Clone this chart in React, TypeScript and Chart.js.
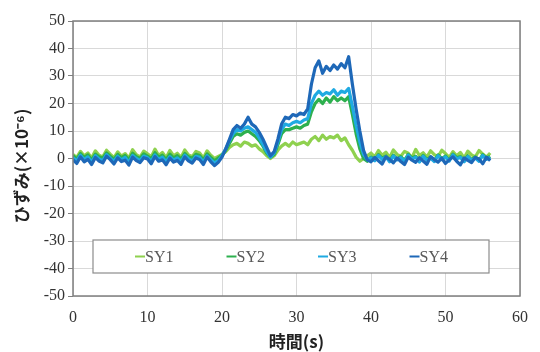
import React, { useEffect, useRef } from "react";
import { Chart, registerables } from "chart.js";

Chart.register(...registerables);

const SAMPLE_STEP_S = 0.5;

const SY1 = [
  1.5, 0.4, 2.6, 1.0, 2.0, 0.2, 2.8, 1.2, 0.6, 3.0,
  1.6, 0.3, 2.4, 0.9, 1.8, 0.1, 3.2, 1.4, 0.5, 2.7,
  1.7, 0.6, 3.4, 1.1, 2.2, 0.3, 2.9, 1.0, 1.9, 0.4,
  3.1, 1.3, 0.7, 2.6, 2.0, 0.2, 2.8, 1.2, 0.0, 0.8,
  1.5, 2.5, 4, 5, 5.5, 4.5, 6, 5.5, 4.5, 5,
  3.5, 2.5, 1, 0, 1, 3, 4.5, 5.5, 4.5, 6,
  5, 5.5, 6, 5, 7, 8, 6.5, 8.5, 7, 8,
  7.5, 8.5, 6.5, 7.5, 5, 3, 0.5, -1, 0, 1,
  2.0, 0.6, 2.9, 1.2, 2.3, 0.4, 3.1, 1.5, 0.8, 2.6,
  1.9, 0.3, 3.3, 1.1, 2.1, 0.5, 2.8, 1.4, 0.7, 3.0,
  1.8, 0.4, 2.5, 1.0, 2.2, 0.2, 2.7, 1.3, 0.6, 2.9,
  1.6, 0.5, 2.0,
];

const SY2 = [
  1.0, -0.2, 1.8, 0.4, 1.3, -0.5, 1.6, 0.6, 0.1, 2.0,
  0.8, -0.3, 1.5, 0.3, 1.1, -0.4, 1.9, 0.7, 0.0, 1.7,
  0.9, -0.1, 2.1, 0.5, 1.2, -0.4, 1.6, 0.2, 1.0, -0.2,
  1.8, 0.6, 0.1, 1.5, 1.1, -0.5, 1.7, 0.4, -0.8, 0.2,
  1.2, 3, 5.5, 8, 9, 8.5, 9.5, 10, 9, 8,
  6.5, 4.5, 2, 0.5, 1.5, 5, 9, 10.5, 10.5, 11,
  11.5, 11, 12, 12.5, 17, 20, 21.5, 20, 22, 20.5,
  22.5, 21, 22, 21, 22.5, 16, 9, 3.5, 0, -1,
  0.6, -0.6, 1.4, 0.1, 0.9, -0.8, 1.2, -0.2, 0.7, -0.7,
  1.5, 0.2, 0.8, -0.9, 1.1, -0.3, 0.5, -0.8, 1.3, 0.0,
  0.9, -0.6, 1.6, 0.3, 0.7, -0.9, 1.0, -0.4, 0.6, -0.7,
  1.4, 0.0, 0.8,
];

const SY3 = [
  0.3, -0.9, 1.2, -0.4, 0.6, -1.3, 1.0, -0.2, -0.8, 1.4,
  0.1, -1.1, 0.8, -0.5, 0.4, -1.4, 1.1, 0.0, -0.7, 0.9,
  0.3, -1.0, 1.3, -0.3, 0.5, -1.2, 0.7, -0.6, 0.2, -1.1,
  1.2, -0.1, -0.9, 0.8, 0.4, -1.3, 1.0, -0.4, -1.6, -0.8,
  1.0, 3.5, 6.5, 9, 10.5, 10, 11, 11.5, 10.5, 9.5,
  7.5, 5, 2.5, 0.5, 2, 6, 10.5, 12.5, 12, 13,
  13.5, 13, 14, 14.5, 20, 23, 24.5, 23, 24, 23.5,
  25, 23, 24.5, 24, 25.5, 19, 12, 6, 1.5, -0.5,
  0.2, -0.8, 1.1, -0.3, 0.6, -1.2, 0.9, -0.5, 0.3, -1.0,
  1.2, -0.2, 0.5, -1.3, 0.8, -0.6, 0.1, -1.1, 1.0, -0.4,
  0.6, -0.9, 1.3, -0.1, 0.4, -1.2, 0.7, -0.7, 0.2, -1.0,
  1.1, -0.3, 0.5,
];

const SY4 = [
  -0.5, -1.8, 0.6, -1.2, -0.3, -2.2, 0.4, -0.9, -1.6, 0.8,
  -0.4, -2.0, 0.2, -1.1, -0.6, -2.4, 0.5, -0.8, -1.5, 0.3,
  -0.2, -1.9, 0.7, -1.0, -0.5, -2.3, 0.1, -1.3, -0.7, -2.1,
  0.6, -0.9, -1.7, 0.2, -0.4, -2.2, 0.5, -1.2, -2.6, -1.4,
  0.5, 3.5, 7, 10.5, 12, 11, 12.5, 15, 12.5, 11.5,
  9.5, 7, 4, 1, 2.5, 7, 12.5, 15, 14.5, 16,
  15.5, 16.5, 16, 18, 27, 33, 35.5, 31, 33.5, 32,
  34, 32.5, 34.5, 33, 37, 27, 18, 10, 3, -0.5,
  -1.2, 0.4, -0.8, -2.0, 0.6, -0.3, -1.6, 0.2, -1.1, -2.2,
  0.5, -0.6, -1.4, 0.3, -0.9, -2.1, 0.7, -0.4, -1.3, 0.1,
  -1.8, -0.5, 0.6, -1.0, -2.3, 0.2, -0.7, -1.5, 0.4, -0.2,
  -1.9, 0.5, -0.8,
];

const SERIES_NAMES = ["SY1", "SY2", "SY3", "SY4"];
const SERIES_COLORS = ["#8FD14F", "#2DB04E", "#1FAAE2", "#1E68B8"];
const X_TITLE = "時間(s)";
const Y_TITLE = "ひずみ(×10⁻⁶)";

const SERIES = [SY1, SY2, SY3, SY4];

const legendPlugin = {
  id: "boxLegendAndFrame",
  afterDraw(chart: any) {
    const { ctx, chartArea } = chart;
    ctx.save();
    ctx.strokeStyle = "#7F7F7F";
    ctx.lineWidth = 1.5;
    ctx.strokeRect(chartArea.left, chartArea.top, chartArea.right - chartArea.left, chartArea.bottom - chartArea.top);

    const bx = chartArea.left + 20;
    const by = chartArea.top + 219;
    const bw = chartArea.right - 31 - bx;
    const bh = 33;
    ctx.fillStyle = "#FFFFFF";
    ctx.fillRect(bx, by, bw, bh);
    ctx.strokeStyle = "#8C8C8C";
    ctx.lineWidth = 1.2;
    ctx.strokeRect(bx, by, bw, bh);

    ctx.font = "16px 'Liberation Serif', 'Times New Roman', serif";
    ctx.textBaseline = "middle";
    ctx.textAlign = "left";
    const cy = by + bh / 2;
    SERIES_NAMES.forEach((name, i) => {
      const lx = bx + 42 + i * 91.5;
      ctx.strokeStyle = SERIES_COLORS[i];
      ctx.lineWidth = 2;
      ctx.beginPath();
      ctx.moveTo(lx, cy);
      ctx.lineTo(lx + 10, cy);
      ctx.stroke();
      ctx.fillStyle = "#595959";
      ctx.fillText(name, lx + 10, cy + 1);
    });

    ctx.save();
    ctx.translate(22, 166);
    ctx.rotate(-Math.PI / 2);
    ctx.textAlign = "center";
    ctx.textBaseline = "middle";
    ctx.fillStyle = "#222222";
    ctx.font = "bold 17px 'Noto Sans CJK JP', sans-serif";
    ctx.fillText(Y_TITLE, 0, 0);
    ctx.restore();
    ctx.restore();
  },
};

export default function App() {
  const ref = useRef<HTMLCanvasElement>(null);
  useEffect(() => {
    if (!ref.current) return;
    const tickFont = { family: "'Liberation Serif', 'Times New Roman', serif", size: 16 };
    const datasets = SERIES.map((vals, si) => ({
      label: SERIES_NAMES[si],
      data: vals.map((v, i) => ({ x: i * SAMPLE_STEP_S, y: v })),
      borderColor: SERIES_COLORS[si],
      backgroundColor: SERIES_COLORS[si],
      borderWidth: 3.2,
      borderJoinStyle: "round" as const,
      pointRadius: 0,
      tension: 0,
      order: 3 - si,
    }));
    const chart = new Chart(ref.current, {
      type: "line",
      data: { datasets },
      options: {
        animation: false,
        responsive: false,
        maintainAspectRatio: false,
        layout: { padding: { left: 0, right: 11, top: 21, bottom: 0 } },
        plugins: { legend: { display: false }, tooltip: { enabled: false } },
        scales: {
          x: {
            type: "linear",
            min: 0,
            max: 60,
            ticks: { stepSize: 10, font: tickFont, color: "#333333", padding: 12, maxRotation: 0 },
            grid: { color: "#D9D9D9", drawTicks: false, lineWidth: 1 },
            border: { display: false },
            title: {
              display: true,
              text: X_TITLE,
              font: { family: "'Noto Sans CJK JP', sans-serif", size: 17, weight: "bold" },
              color: "#222222",
              padding: { top: 0, bottom: 0 },
            },
            afterFit: (s: any) => { s.height = 56; },
          },
          y: {
            min: -50,
            max: 50,
            ticks: { stepSize: 10, font: tickFont, color: "#333333", padding: 3 },
            grid: { color: "#D9D9D9", tickLength: 5, tickColor: "#7F7F7F", lineWidth: 1 },
            border: { display: false },
            afterFit: (s: any) => { s.width = 73; },
          },
        },
      },
      plugins: [legendPlugin],
    });
    return () => chart.destroy();
  }, []);
  return (
    <div style={{ position: "absolute", left: 0, top: 0, width: 540, height: 352, background: "#fff" }}>
      <canvas ref={ref} width={540} height={352} style={{ width: 540, height: 352 }} />
    </div>
  );
}
